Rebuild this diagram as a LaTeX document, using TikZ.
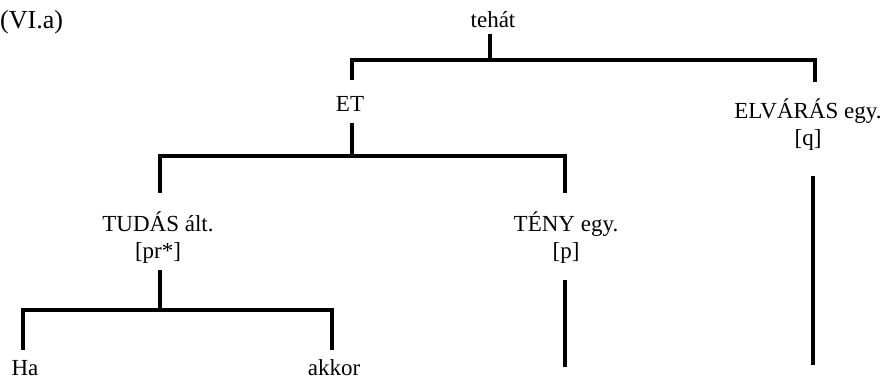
\documentclass[tikz,border=0pt]{standalone}
\usepackage{fontspec}
\setmainfont{Liberation Serif}
\begin{document}
\begin{tikzpicture}[x=1pt,y=1pt,
  lbl/.style={inner sep=0pt,align=center,font=\fontsize{23}{27}\selectfont},
  tree/.style={line width=3.2pt,line cap=butt,line join=miter}]
\useasboundingbox (0,0) rectangle (896,386);
% nodes
\node[lbl,anchor=west,font=\fontsize{26}{30}\selectfont] (title) at (0,364) {(VI.a)};
\node[lbl] (tehat) at (493,366) {tehát};
\node[lbl] (ET) at (350,282) {ET};
\node[lbl] (ELV) at (808,261) {ELVÁRÁS egy.\\{[q]}};
\node[lbl] (TUD) at (158,148) {TUDÁS ált.\\{[pr*]}};
\node[lbl] (TENY) at (566,148) {TÉNY egy.\\{[p]}};
\node[lbl] (Ha) at (25,18) {Ha};
\node[lbl] (akkor) at (334,18) {akkor};
% junctions
\coordinate (j1) at (490,326);
\coordinate (j2) at (352,230);
\coordinate (j3) at (160,76);
% connectors
\draw[tree] (j1 |- tehat.south) ++(0,-6) -- (j1);
\draw[tree] (352,306) -- (352,326) -- (815,326) -- (815,304);
\draw[tree] (j2 |- ET.south) ++(0,-11) -- (j2);
\draw[tree] (160,193) -- (160,230) -- (565,230) -- (565,193);
\draw[tree] (j3 |- TUD.south) ++(0,-6) -- (j3);
\draw[tree] (23,36) -- (23,76) -- (332,76) -- (332,36);
\draw[tree] (565,0 |- TENY.south) ++(0,-16) -- (565,19);
\draw[tree] (813,0 |- ELV.south) ++(0,-25) -- (813,21);
\end{tikzpicture}
\end{document}
